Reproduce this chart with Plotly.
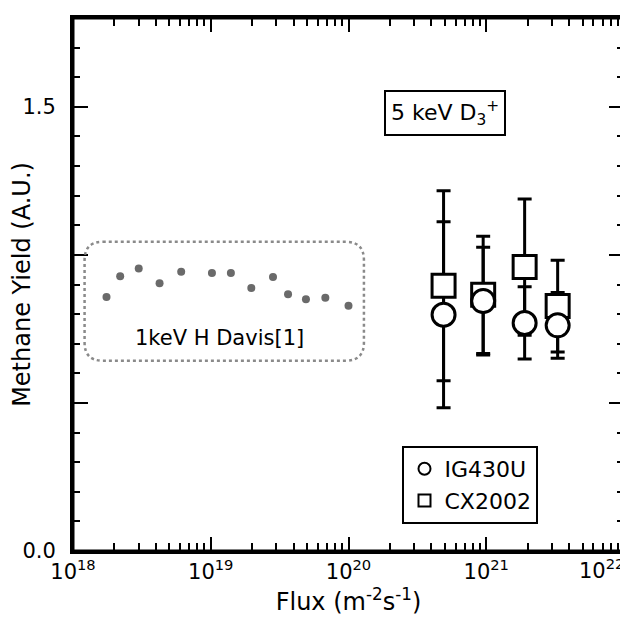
import numpy as np
import plotly.graph_objects as go

# Davis 1 keV H reference points
davis_flux = [1.75e18, 2.2e18, 3.0e18, 4.25e18, 6.1e18, 1.02e19, 1.40e19,
              1.97e19, 2.83e19, 3.64e19, 4.91e19, 6.79e19, 1.0e20]
davis_yield = [0.858, 0.928, 0.954, 0.904, 0.943, 0.939, 0.939,
               0.888, 0.925, 0.867, 0.850, 0.855, 0.828]

# 5 keV D3+ measurements
meas_flux = [4.9e20, 9.5e20, 1.9e21, 3.3e21]
ig430u_yield = [0.798, 0.844, 0.770, 0.762]
ig430u_err = [0.314, 0.182, 0.122, 0.111]
cx2002_yield = [0.896, 0.865, 0.959, 0.827]
cx2002_err = [0.321, 0.198, 0.230, 0.155]

x_major = [1e18, 1e19, 1e20, 1e21, 1e22]
x_labels = ["10<sup>18</sup>", "10<sup>19</sup>", "10<sup>20</sup>",
            "10<sup>21</sup>", ""]
x_last_label = "10<sup>22</sup>"
y_major = [0.0, 0.5, 1.0, 1.5]
y_labels = ["0.0", "", "", "1.5"]

FONT = "DejaVu Sans, Liberation Sans, Arial, sans-serif"

x_minor = [m * d for d in x_major[:-1] for m in range(2, 10)]

fig = go.Figure()

# Davis points
fig.add_trace(go.Scatter(
    x=davis_flux, y=davis_yield, mode="markers",
    marker=dict(size=8, color="#6a6a6a"), showlegend=False))

# error bars (drawn beneath markers)
fig.add_trace(go.Scatter(
    x=meas_flux, y=cx2002_yield, mode="markers",
    marker=dict(size=1, color="rgba(0,0,0,0)"),
    error_y=dict(type="data", array=cx2002_err, color="black",
                 thickness=3, width=7),
    showlegend=False, hoverinfo="skip"))
fig.add_trace(go.Scatter(
    x=meas_flux, y=ig430u_yield, mode="markers",
    marker=dict(size=1, color="rgba(0,0,0,0)"),
    error_y=dict(type="data", array=ig430u_err, color="black",
                 thickness=3, width=7),
    showlegend=False, hoverinfo="skip"))

# markers
fig.add_trace(go.Scatter(
    x=meas_flux, y=cx2002_yield, mode="markers", name="CX2002",
    marker=dict(symbol="square", size=23, color="white",
                line=dict(color="black", width=3)),
    legendrank=2))
fig.add_trace(go.Scatter(
    x=meas_flux, y=ig430u_yield, mode="markers", name="IG430U",
    marker=dict(symbol="circle", size=23, color="white",
                line=dict(color="black", width=3)),
    legendrank=1))

# rounded dotted box around Davis data (paper coords)
x0, x1, y0, y1 = 0.021, 0.528, 0.357, 0.580
rx, ry = 0.033, 0.034
path = (f"M {x0+rx},{y1} L {x1-rx},{y1} Q {x1},{y1} {x1},{y1-ry} "
        f"L {x1},{y0+ry} Q {x1},{y0} {x1-rx},{y0} L {x0+rx},{y0} "
        f"Q {x0},{y0} {x0},{y0+ry} L {x0},{y1-ry} Q {x0},{y1} {x0+rx},{y1} Z")
fig.add_shape(type="path", path=path, xref="paper", yref="paper",
              line=dict(color="#8a8a8a", width=2.5, dash="dot"))

# plot frame
fig.add_shape(type="rect", xref="paper", yref="paper", x0=0, x1=1, y0=0, y1=1,
              line=dict(color="black", width=3), layer="above")

fig.add_annotation(text="1keV H Davis[1]", xref="paper", yref="paper",
                   x=0.266, y=0.400, xanchor="center", yanchor="middle",
                   showarrow=False,
                   font=dict(size=21, color="black", family=FONT))

fig.add_annotation(text="5 keV D<sub>3</sub><sup>+</sup>", xref="paper", yref="paper",
                   x=0.676, y=0.822, xanchor="center", yanchor="middle",
                   showarrow=False,
                   font=dict(size=22, color="black", family=FONT),
                   bordercolor="black", borderwidth=2, borderpad=5,
                   bgcolor="white")

# last x tick label, kept inside the page like in the original
fig.add_annotation(text=x_last_label, xref="paper", yref="paper",
                   x=1.004, y=0, xanchor="right", yanchor="top", yshift=-2,
                   showarrow=False,
                   font=dict(size=21, color="black", family=FONT))

axis_common = dict(showline=True, linecolor="black", linewidth=3,
                   mirror="ticks", ticks="inside", tickcolor="black",
                   tickwidth=2, showgrid=False, zeroline=False,
                   automargin=False)

fig.update_xaxes(type="log", range=[17.9999, 22.0001], tickvals=x_major,
                 ticktext=x_labels, ticklen=14,
                 minor=dict(tickvals=x_minor, ticks="inside", ticklen=8,
                            tickwidth=2, tickcolor="black", showgrid=False),
                 title=dict(text="Flux (m<sup>-2</sup>s<sup>-1</sup>)",
                            font=dict(size=24, family=FONT, color="black"),
                            standoff=8),
                 tickfont=dict(size=21, family=FONT, color="black"),
                 **axis_common)
fig.update_yaxes(range=[0, 1.8], tickvals=y_major, ticktext=y_labels,
                 ticklen=15, ticklabelstandoff=10,
                 minor=dict(dtick=0.1, ticks="inside", ticklen=7,
                            tickwidth=2, tickcolor="black", showgrid=False),
                 title=dict(text="Methane Yield (A.U.)",
                            font=dict(size=24, family=FONT, color="black"),
                            standoff=4),
                 tickfont=dict(size=21, family=FONT, color="black"),
                 **axis_common)

fig.update_layout(
    width=628, height=625,
    margin=dict(l=65, r=12, t=10, b=82),
    paper_bgcolor="white", plot_bgcolor="white",
    font=dict(family=FONT, color="black"),
    legend=dict(x=0.598, y=0.197, xanchor="left", yanchor="top",
                bordercolor="black", borderwidth=2, bgcolor="white",
                font=dict(size=22, family=FONT, color="black"),
                itemsizing="constant"),
)

fig.write_html("out.html")
